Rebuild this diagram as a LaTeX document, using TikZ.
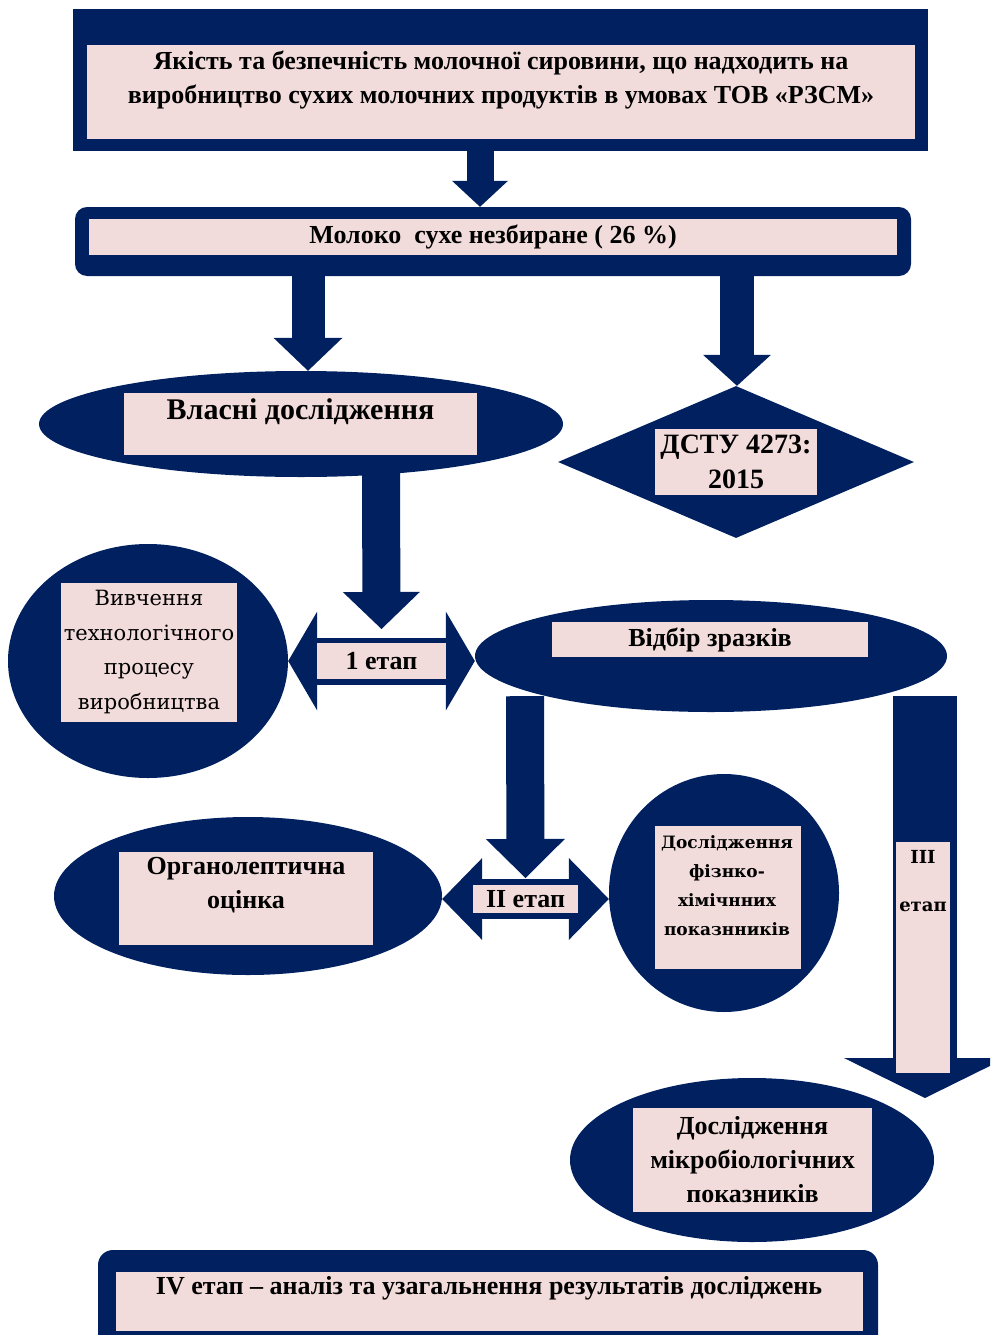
\documentclass[tikz,border=0pt]{standalone}
\usepackage{fontspec}
\setmainfont{Liberation Serif}
\newfontfamily\wideserif{DejaVu Serif}
\usetikzlibrary{arrows.meta, shapes.geometric}
\definecolor{navy}{HTML}{002060}
\definecolor{rose}{HTML}{F2DCDB}
\newcommand{\fsize}[2]{\fontsize{#1}{#2}\selectfont}
\tikzset{
  head/.style 2 args={-{Triangle[length=#1, width=#2, line width=0pt]}},
  heads/.style 2 args={{Triangle[length=#1, width=#2, line width=0pt]}-{Triangle[length=#1, width=#2, line width=0pt]}}
}

\begin{document}
\begin{tikzpicture}[x=1pt, y=-1pt]
        \tikzstyle{navybox} = [fill=navy, draw=none, inner sep=0pt]
        \tikzstyle{rosebox} = [fill=rose, draw=none, inner sep=0pt, outer sep=0pt]
        \tikzstyle{oval} = [navybox, ellipse]
        \tikzstyle{lbl} = [inner sep=0pt, align=center, font=\bfseries\fsize{26}{34}]
        \useasboundingbox (0,0) rectangle (990,1335);
        \clip (0,0) rectangle (990,1335);
        %Blocks
        \node[navybox, minimum width=855pt, minimum height=142pt] (top) at (500.5,80) {};
        \node[rosebox, minimum width=828pt, minimum height=94pt] (topbg) at (501,92) {};
        \node[lbl] (toptext) at (501,80) {Якість та безпечність молочної сировини, що надходить на\\виробництво сухих молочних продуктів в умовах ТОВ «РЗСМ»};

        \node[navybox, rounded corners=12pt, minimum width=836pt, minimum height=69pt] (milk) at (493,241.5) {};
        \node[rosebox, lbl, minimum width=808pt, minimum height=36pt] (milkbg) at (493,237) {Молоко\ \ сухе незбиране ( 26 \%)};

        \node[oval, minimum width=524pt, minimum height=106pt] (own) at (301,424) {};
        \node[rosebox, minimum width=353pt, minimum height=62pt] (ownbg) at (300.5,424) {};
        \node[lbl, font=\bfseries\fsize{30}{34}] (owntext) at (300.5,412) {Власні дослідження};

        \node[navybox, diamond, minimum width=356pt, minimum height=152pt] (dstu) at (736,462) {};
        \node[rosebox, lbl, font=\bfseries\fsize{28}{35}, minimum width=162pt, minimum height=66pt] (dstubg) at (736,462) {ДСТУ 4273:\\2015};

        \node[oval, minimum width=280pt, minimum height=234pt] (vyv) at (148,661) {};
        \node[rosebox, lbl, font=\wideserif\fsize{21}{34.5}, minimum width=176pt, minimum height=139pt] (vyvbg) at (149,652) {Вивчення\\технологічного\\процесу\\виробництва};

        \node[oval, minimum width=472pt, minimum height=112pt] (vidbir) at (711,656) {};
        \node[rosebox, lbl, minimum width=316pt, minimum height=35pt] (vidbirbg) at (710,639.5) {Відбір зразків};

        \node[oval, minimum width=388pt, minimum height=158pt] (organo) at (248,896) {};
        \node[rosebox, minimum width=254pt, minimum height=93pt] (organobg) at (246,898.5) {};
        \node[lbl] (organotext) at (246,885) {Органолептична\\оцінка};

        \node[oval, minimum width=230pt, minimum height=238pt] (fiz) at (724,893) {};
        \node[rosebox, minimum width=146pt, minimum height=143pt] (fizbg) at (728,897.5) {};
        \node[lbl, font=\wideserif\bfseries\fsize{17}{29}] (fiztext) at (727,885.5) {Дослідження\\фізнко-\\хімічнних\\показнників};

        \node[oval, minimum width=364pt, minimum height=164pt] (micro) at (752,1160) {};
        \node[rosebox, lbl, minimum width=239pt, minimum height=104pt] (microbg) at (752.5,1160) {Дослідження\\мікробіологічних\\показників};

        \node[navybox, rounded corners=15pt, minimum width=780pt, minimum height=100pt] (final) at (488,1300) {};
        \node[rosebox, minimum width=747pt, minimum height=59pt] (finalbg) at (489.5,1301.5) {};
        \node[lbl] (finaltext) at (489,1288) {IV етап – аналіз та узагальнення результатів досліджень};

        \coordinate (stage3end) at (925,1098);

        %Connecting Blocks
        \begin{scope}[draw=navy]
            \draw[line width=27pt, head={26pt}{56pt}] ([xshift=-20.5pt]top.south) -- ([xshift=-13pt]milk.north);
            \draw[line width=33pt, head={33pt}{69pt}] ([xshift=-185pt]milk.south) -- ([xshift=7pt]own.north);
            \draw[line width=34pt, head={31pt}{68pt}] ([xshift=244pt]milk.south) -- ([xshift=1pt]dstu.north);
            \draw[line width=47pt, heads={29pt}{99pt}] (vyv.east) -- (vyv.east -| vidbir.west)
                node[midway, rosebox, lbl, minimum width=129pt, minimum height=36pt] (stage1) {1 етап};
            \draw[line width=38pt, head={37pt}{77pt}] ([xshift=80pt, yshift=6pt]own.south) -- ([yshift=14pt]stage1.north);
            \draw[line width=40pt, heads={40pt}{82pt}] ([yshift=-3pt]organo.east) -- ([yshift=-3pt]organo.east -| fiz.west)
                node[midway, rosebox, lbl, minimum width=105pt, minimum height=28pt] (stage2) {II етап};
            \draw[line width=38pt, head={39pt}{79pt}] ([xshift=-186pt, yshift=16pt]vidbir.south) -- ([yshift=7pt]stage2.north);
            \draw[line width=64pt, head={40pt}{162pt}] ([xshift=214pt, yshift=16pt]vidbir.south) -- (stage3end);
        \end{scope}
        \node[rosebox, minimum width=54pt, minimum height=231pt] (stage3bg) at (923,957.5) {};
        \node[lbl, font=\wideserif\bfseries\fsize{18}{48}] (stage3) at (923,881) {III\\етап};
\end{tikzpicture}
\end{document}
